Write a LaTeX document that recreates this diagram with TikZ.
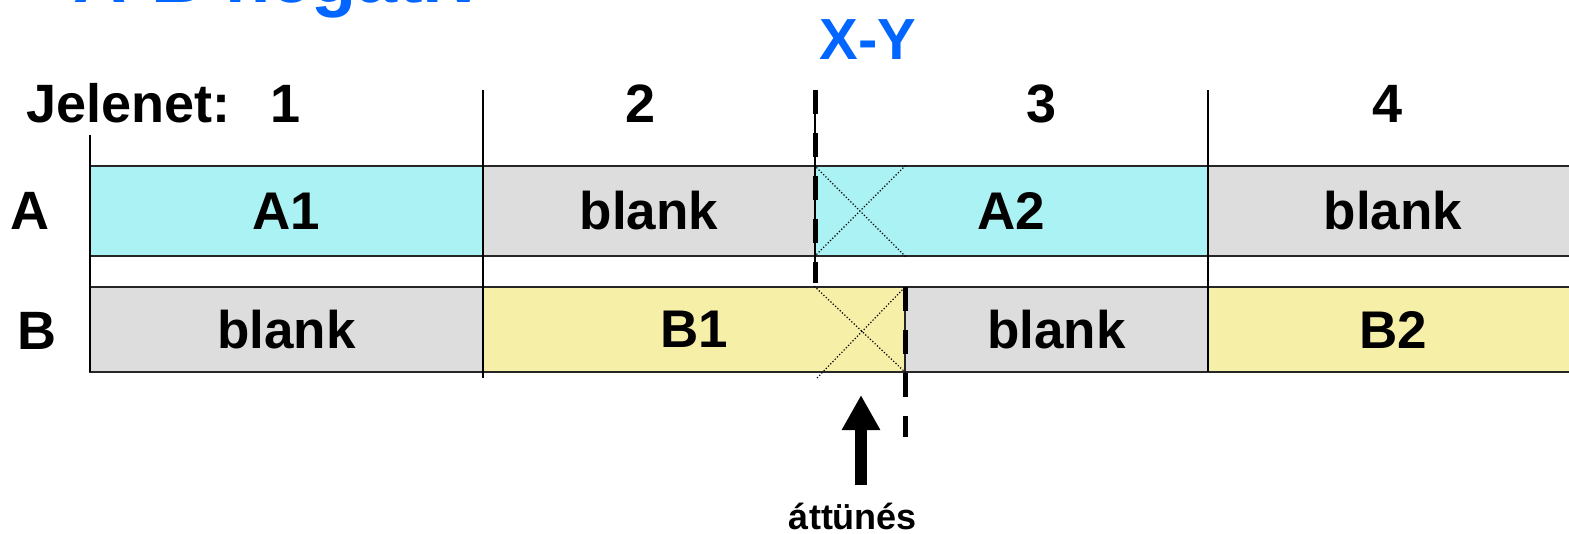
\documentclass[tikz,border=0pt]{standalone}
\usepackage{fontspec}
\setmainfont{Liberation Sans}
\usetikzlibrary{arrows.meta}
\definecolor{cellcyan}{HTML}{AAF2F4}
\definecolor{cellgray}{HTML}{DDDDDD}
\definecolor{cellyellow}{HTML}{F5EFA8}
\definecolor{titleblue}{HTML}{0066FF}

\begin{document}
\begin{tikzpicture}[x = 0.5pt, y = -0.5pt,
        cell/.style = {draw = black!85, line width = 0.8pt, inner sep = 0pt, font = \fontsize{26.5}{30}\selectfont\bfseries},
        rowa/.style = {cell, minimum height = 45pt},
        rowb/.style = {cell, minimum height = 42.5pt},
        heading/.style = {inner sep = 0pt, font = \fontsize{27}{30}\selectfont\bfseries},
        cutline/.style = {line width = 2.5pt, dash pattern = on 12pt off 9.5pt},
        crossline/.style = {densely dotted, line width = 0.6pt}]
        \useasboundingbox (0, 0) rectangle (1569, 534);

        % Title
        \node [anchor = base west, inner sep = 0pt, text = titleblue, font = \fontsize{37}{40}\selectfont\bfseries] (title) at (73, 3) {A-B negatív};
        \node [inner sep = 0pt, text = titleblue, font = \fontsize{29}{32}\selectfont\bfseries] (xy) at (868, 40) {X-Y};

        % Scenes
        \node [heading, anchor = base west] (jelenet) at (26, 123) {Jelenet:};
        \node [heading, anchor = base] (s1) at (286, 123) {1};
        \node [heading, anchor = base] (s2) at (641, 123) {2};
        \node [heading, anchor = base] (s3) at (1042, 123) {3};
        \node [heading, anchor = base] (s4) at (1388, 123) {4};

        % Rows
        \node [heading] (rowa) at (30, 211) {A};
        \node [heading] (rowb) at (37, 331) {B};

        % Cells
        \node [rowa, fill = cellcyan, minimum width = 196.5pt] (a1) at (286.5, 211) {A1};
        \node [rowa, fill = cellgray, minimum width = 166pt] (ablank2) at (649, 211) {blank};
        \node [rowa, fill = cellcyan, minimum width = 196.5pt] (a2) at (1011.5, 211) {A2};
        \node [rowa, fill = cellgray, minimum width = 185pt] (ablank4) at (1393, 211) {blank};
        \node [rowb, fill = cellgray, minimum width = 196.5pt] (bblank1) at (286.5, 329.5) {blank};
        \node [rowb, fill = cellyellow, minimum width = 211pt] (b1) at (694, 329.5) {B1};
        \node [rowb, fill = cellgray, minimum width = 151.5pt] (bblank3) at (1056.5, 329.5) {blank};
        \node [rowb, fill = cellyellow, minimum width = 185pt] (b2) at (1393, 329.5) {B2};

        % Scene borders
        \coordinate (d0top) at (90, 135);
        \coordinate (d0bot) at (90, 372);
        \coordinate (d1top) at (483, 90);
        \coordinate (d1bot) at (483, 378);
        \coordinate (d3top) at (1208, 90);
        \coordinate (d3bot) at (1208, 372);
        \draw [line width = 0.8pt] (d0top) -- (d0bot) (d1top) -- (d1bot) (d3top) -- (d3bot);

        % Crossfade
        \coordinate (bcorner) at (817, 378);
        \draw [crossline] (a2.north west) -- (b1.east |- a2.south) (a2.south west) -- (b1.east |- a2.north);
        \draw [crossline] (a2.west |- b1.north) -- (b1.south east) (bcorner) -- (b1.north east);

        % Cuts
        \coordinate (xtop) at (815, 90);
        \coordinate (xbot) at (815, 283);
        \coordinate (ytop) at (905, 287);
        \coordinate (ybot) at (905, 437);
        \draw [line width = 0.6pt] (xtop) -- (xbot);
        \draw [cutline] (xtop) -- (xbot);
        \draw [cutline] (ytop) -- (ybot);

        % Arrow
        \coordinate (arrowfoot) at (861, 485);
        \coordinate (arrowtip) at (861, 395);
        \draw [line width = 6pt, -{Triangle[width = 18pt, length = 17.5pt]}] (arrowfoot) -- (arrowtip);
        \node [anchor = base, inner sep = 0pt, font = \fontsize{18}{20}\selectfont\bfseries] (fade) at (853, 529) {áttünés};

    \end{tikzpicture}
\end{document}
